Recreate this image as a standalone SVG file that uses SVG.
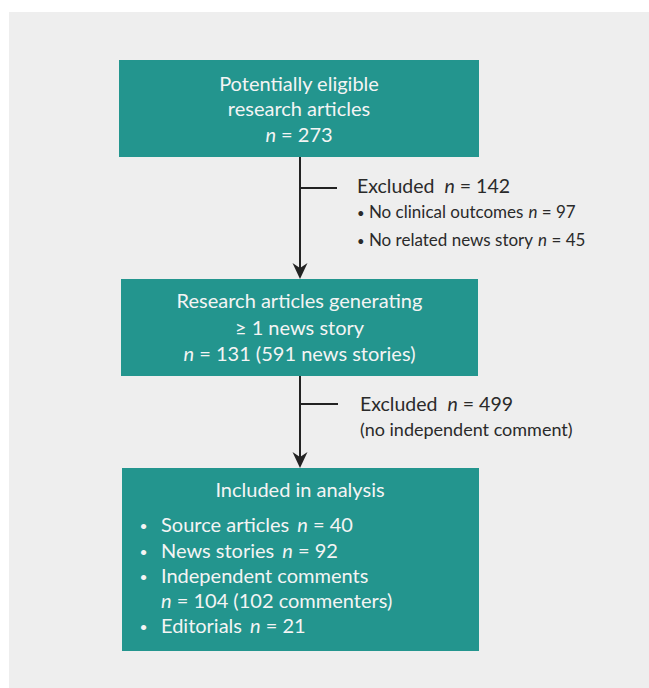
<svg xmlns="http://www.w3.org/2000/svg" width="649" height="688" viewBox="0 0 649 688">
<defs>
<style>
.box{fill:#23958e}
.bt{font-family:Lato,"Liberation Sans",sans-serif;font-size:20px;fill:#f4f4f4}
.bl{font-size:14px}
.ct{font-family:Lato,"Liberation Sans",sans-serif;fill:#2a2a2a}
.lg{font-size:19.5px}
.sm{font-size:17px}
.md{font-size:18px}
.db{font-size:13px}
.it{font-style:italic}
.ln{stroke:#222;stroke-width:2;fill:none}
</style>
<marker id="ah" markerUnits="userSpaceOnUse" markerWidth="18" markerHeight="16" viewBox="0 0 18 16" refX="10" refY="8" orient="auto">
<path d="M17,8 L1,0.5 L6,8 L1,15.5 Z" fill="#222"/>
</marker>
</defs>
<rect x="9" y="12" width="640" height="676" fill="#eeeeee"/>
<g id="connectors">
<line class="ln" x1="300" y1="157" x2="300" y2="272" marker-end="url(#ah)"/>
<line class="ln" x1="300" y1="188" x2="337" y2="188"/>
<line class="ln" x1="300" y1="376" x2="300" y2="461" marker-end="url(#ah)"/>
<line class="ln" x1="300" y1="404" x2="338" y2="404"/>
</g>
<g id="node1">
<rect class="box" x="119" y="60" width="360" height="97"/>
<text class="bt" text-anchor="middle" x="299" y="91">Potentially eligible</text>
<text class="bt" text-anchor="middle" x="299" y="116">research articles</text>
<text class="bt" text-anchor="middle" x="299" y="142"><tspan class="it">n</tspan> = 273</text>
</g>
<g id="excluded1">
<text class="ct lg" x="357" y="193">Excluded<tspan class="it" dx="10">n</tspan> = 142</text>
<text class="ct sm" x="357" y="218"><tspan class="db">•</tspan> No clinical outcomes<tspan class="it" dx="5">n</tspan> = 97</text>
<text class="ct sm" x="357" y="246"><tspan class="db">•</tspan> No related news story<tspan class="it" dx="5">n</tspan> = 45</text>
</g>
<g id="node2">
<rect class="box" x="121" y="279" width="357" height="97"/>
<text class="bt" text-anchor="middle" x="299.5" y="308">Research articles generating</text>
<text class="bt" text-anchor="middle" x="299.5" y="335">≥ 1 news story</text>
<text class="bt" text-anchor="middle" x="299.5" y="361"><tspan class="it">n</tspan> = 131 (591 news stories)</text>
</g>
<g id="excluded2">
<text class="ct lg" x="360" y="411">Excluded<tspan class="it" dx="10">n</tspan> = 499</text>
<text class="ct md" x="360" y="436">(no independent comment)</text>
</g>
<g id="node3">
<rect class="box" x="122" y="468" width="357" height="183"/>
<text class="bt" text-anchor="middle" x="300" y="497">Included in analysis</text>
<text class="bt bl" text-anchor="middle" x="143.5" y="531">•</text>
<text class="bt" x="161" y="532">Source articles<tspan class="it" dx="8">n</tspan> = 40</text>
<text class="bt bl" text-anchor="middle" x="143.5" y="557">•</text>
<text class="bt" x="161" y="558">News stories<tspan class="it" dx="8">n</tspan> = 92</text>
<text class="bt bl" text-anchor="middle" x="143.5" y="582">•</text>
<text class="bt" x="161" y="583">Independent comments</text>
<text class="bt" x="161" y="608"><tspan class="it">n</tspan> = 104 (102 commenters)</text>
<text class="bt bl" text-anchor="middle" x="143.5" y="632">•</text>
<text class="bt" x="161" y="633">Editorials<tspan class="it" dx="8">n</tspan> = 21</text>
</g>
</svg>
